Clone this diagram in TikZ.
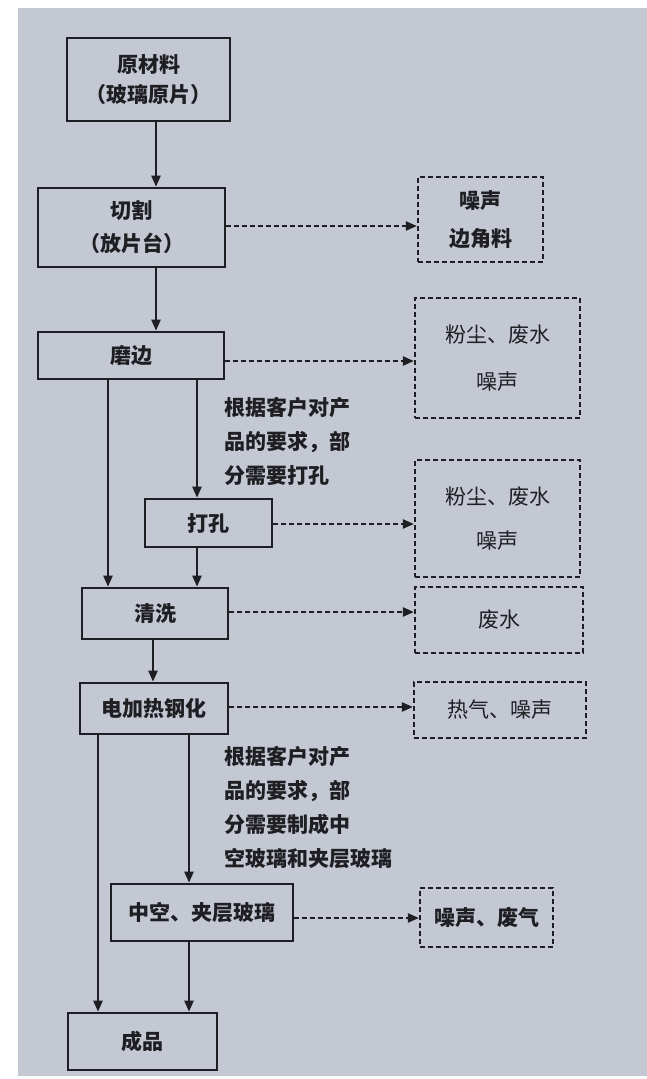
\documentclass[tikz,border=0pt]{standalone}
\usepackage{fontspec}
\setmainfont{Noto Sans CJK SC}
\usetikzlibrary{arrows.meta}
\definecolor{bg}{RGB}{196,200,211}
\definecolor{ink}{RGB}{30,30,35}
\begin{document}
\begin{tikzpicture}[x=1pt,y=-1pt,
  proc/.style={draw=ink, line width=2.6pt, text=ink, font=\fontsize{21}{30}\selectfont\bfseries, align=center, inner sep=0pt},
  side/.style={draw=ink, line width=2.2pt, dash pattern=on 5pt off 3pt, text=ink, font=\fontsize{21}{30}\selectfont, align=center, inner sep=0pt},
  arr/.style={draw=ink, line width=2.2pt, -{Triangle[length=11pt,width=9pt]}},
  darr/.style={arr, dash pattern=on 5pt off 3pt},
  note/.style={text=ink, font=\fontsize{21}{34}\selectfont\bfseries, align=left, anchor=west, inner sep=0pt}]
\useasboundingbox (0,0) rectangle (647,1079);
\fill[white] (0,0) rectangle (647,1079);
\fill[bg] (18,8) rectangle (647,1076);

% process boxes
\node[proc, minimum width=163pt, minimum height=83pt] (raw) at (148.5,79.5) {原材料\\（玻璃原片）};
\node[proc, minimum width=187pt, minimum height=79pt] (cut) at (131.5,227.5) {切割\\[3pt]（放片台）};
\node[proc, minimum width=186pt, minimum height=47pt] (grind) at (131,355.5) {磨边};
\node[proc, minimum width=127pt, minimum height=48pt] (drill) at (208.5,523) {打孔};
\node[proc, minimum width=146pt, minimum height=51pt] (wash) at (155,613.5) {清洗};
\node[proc, minimum width=148pt, minimum height=51pt] (temper) at (154,708.5) {电加热钢化};
\node[proc, minimum width=182pt, minimum height=57pt] (hollow) at (202,912.5) {中空、夹层玻璃};
\node[proc, minimum width=149pt, minimum height=57pt] (product) at (142.5,1041.5) {成品};

% side boxes
\node[side, minimum width=125pt, minimum height=85pt, font=\fontsize{21}{30}\selectfont\bfseries] (noise1) at (480.5,219.5) {噪声\\[8pt]边角料};
\node[side, minimum width=165pt, minimum height=120pt] (dust1) at (497.5,358) {粉尘、废水\\[17pt]噪声};
\node[side, minimum width=165pt, minimum height=117pt] (dust2) at (497.5,518.5) {粉尘、废水\\[14pt]噪声};
\node[side, minimum width=168pt, minimum height=66pt] (waste) at (499,620) {废水};
\node[side, minimum width=172pt, minimum height=56pt] (heat) at (500,710) {热气、噪声};
\node[side, minimum width=133pt, minimum height=59pt, font=\fontsize{21}{30}\selectfont\bfseries] (noise2) at (486.5,917.5) {噪声、废气};

% annotations
\node[note] (note1) at (224,441.5) {根据客户对产\\品的要求，部\\分需要打孔};
\node[note] (note2) at (224,807.5) {根据客户对产\\品的要求，部\\分需要制成中\\空玻璃和夹层玻璃};

% column coordinates
\coordinate (c1) at (156,0);
\coordinate (c2) at (108,0);
\coordinate (c3) at (197,0);
\coordinate (c4) at (153,0);
\coordinate (c5) at (98,0);
\coordinate (c6) at (189,0);

% main flow
\draw[arr] (raw.south -| c1) -- (cut.north -| c1);
\draw[arr] (cut.south -| c1) -- (grind.north -| c1);
\draw[arr] (grind.south -| c2) -- (wash.north -| c2);
\draw[arr] (grind.south -| c3) -- (drill.north -| c3);
\draw[arr] (drill.south -| c3) -- (wash.north -| c3);
\draw[arr] (wash.south -| c4) -- (temper.north -| c4);
\draw[arr] (temper.south -| c5) -- (product.north -| c5);
\draw[arr] (temper.south -| c6) -- (hollow.north -| c6);
\draw[arr] (hollow.south -| c6) -- (product.north -| c6);

% dashed outputs
\draw[darr] ([yshift=1.5pt]cut.east) -- ([yshift=1.5pt]cut.east -| noise1.west);
\draw[darr] ([yshift=-5.5pt]grind.east) -- ([yshift=-5.5pt]grind.east -| dust1.west);
\draw[darr] ([yshift=-1pt]drill.east) -- ([yshift=-1pt]drill.east -| dust2.west);
\draw[darr] ([yshift=1.5pt]wash.east) -- ([yshift=1.5pt]wash.east -| waste.west);
\draw[darr] ([yshift=1.5pt]temper.east) -- ([yshift=1.5pt]temper.east -| heat.west);
\draw[darr] ([yshift=-5.5pt]hollow.east) -- ([yshift=-5.5pt]hollow.east -| noise2.west);
\end{tikzpicture}
\end{document}
